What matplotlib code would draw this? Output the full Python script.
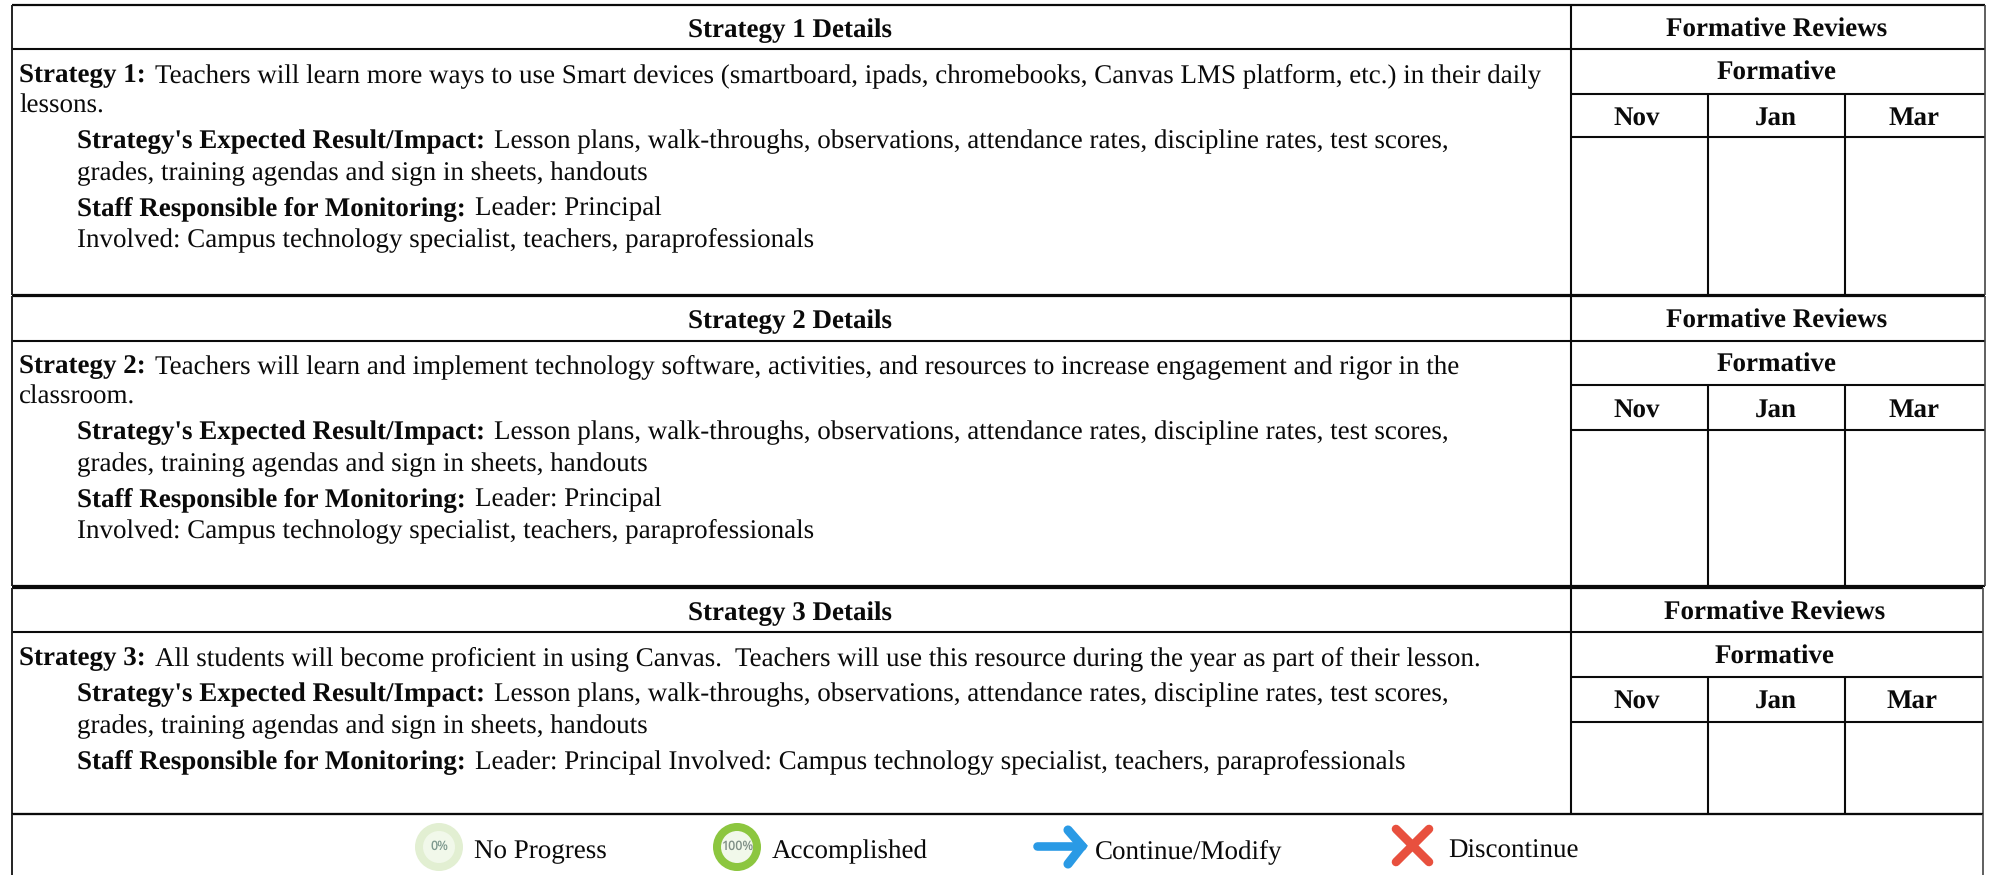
import matplotlib
matplotlib.use("Agg")
import matplotlib.pyplot as plt
from matplotlib.patches import Circle

W, H = 1990, 875
FS = 19.45
plt.rcParams["font.family"] = ["Liberation Serif", "DejaVu Serif"]
plt.rcParams["text.hinting"] = "none"

# text content
strategy_titles = ["Strategy 1 Details", "Strategy 2 Details", "Strategy 3 Details"]
review_title = "Formative Reviews"
formative_title = "Formative"
months = ["Nov", "Jan", "Mar"]
legend_labels = ["No Progress", "Accomplished", "Continue/Modify", "Discontinue"]
impact_1 = "Lesson plans, walk-throughs, observations, attendance rates, discipline rates, test scores,"
impact_2 = "grades, training agendas and sign in sheets, handouts"
involved = "Involved: Campus technology specialist, teachers, paraprofessionals"
impact_head = "Strategy's Expected Result/Impact:"
staff_head = "Staff Responsible for Monitoring:"

# (bold part, regular part, indented)
block_1 = [
    ("Strategy 1:", "Teachers will learn more ways to use Smart devices (smartboard, ipads, chromebooks, Canvas LMS platform, etc.) in their daily", False),
    ("", "lessons.", False),
    (impact_head, impact_1, True),
    ("", impact_2, True),
    (staff_head, "Leader: Principal", True),
    ("", involved, True),
]
block_2 = [
    ("Strategy 2:", "Teachers will learn and implement technology software, activities, and resources to increase engagement and rigor in the", False),
    ("", "classroom.", False),
    (impact_head, impact_1, True),
    ("", impact_2, True),
    (staff_head, "Leader: Principal", True),
    ("", involved, True),
]
block_3 = [
    ("Strategy 3:", "All students will become proficient in using Canvas.  Teachers will use this resource during the year as part of their lesson.", False),
    (impact_head, impact_1, True),
    ("", impact_2, True),
    (staff_head, "Leader: Principal Involved: Campus technology specialist, teachers, paraprofessionals", True),
]
blocks = [block_1, block_2, block_3]

# layout in reference pixels
block_lines = [(5, 49, 94, 137, 295), (296, 341, 385, 430, 586), (588, 632, 677, 722, 814)]
head_base = [(37, 37, 80, 125), (328, 328, 372, 417), (620, 620, 664, 708)]
row_base = [
    [82, 113, 148, 180, 215, 246],
    [373, 404, 439, 471, 506, 537],
    [665, 701, 733, 768],
]
right_edge = [1985, 1985, 1983]
left_edge = 12
col_x = [1571, 1708, 1845]
title_x = 790
review_x = [1777, 1777, 1775]
month_x = [1637, 1776, 1914]
legend_text_x = [474, 772, 1095, 1448]
legend_base = 858

fig = plt.figure(figsize=(W / 100, H / 100), dpi=100, facecolor="white")
ax = fig.add_axes([0, 0, 1, 1])
ax.set_xlim(0, W)
ax.set_ylim(H, 0)
ax.axis("off")
renderer = fig.canvas.get_renderer()


def hline(x0, x1, y, lw=1.5, color="#0a0a0a"):
    ax.plot([x0, x1], [y, y], color=color, lw=lw, solid_capstyle="butt")


def vline(x, y0, y1, lw=1.5, color="#0a0a0a"):
    ax.plot([x, x], [y0, y1], color=color, lw=lw, solid_capstyle="butt")


def label(x, y, s, bold=False, ha="left"):
    return ax.text(x, y, s, fontsize=FS, fontweight="bold" if bold else "normal",
                   ha=ha, va="baseline", color="#0a0a0a")


for i, rows in enumerate(blocks):
    top, head, form, mon, bottom = block_lines[i]
    r = right_edge[i]
    hline(left_edge, r, top, lw=1.6)
    hline(left_edge, r, head)
    hline(col_x[0], r, form)
    hline(col_x[0], r, mon)
    hline(left_edge, r, bottom, lw=1.6)
    vline(left_edge, top, bottom, lw=1.4, color="#222222")
    vline(r, top, bottom, lw=1.2, color="#444444")
    vline(col_x[0], top, bottom)
    vline(col_x[1], form, bottom)
    vline(col_x[2], form, bottom)

    h = head_base[i]
    label(title_x, h[0], strategy_titles[i], bold=True, ha="center")
    label(review_x[i], h[1], review_title, bold=True, ha="center")
    label(review_x[i], h[2], formative_title, bold=True, ha="center")
    for mx, m in zip(month_x, months):
        label(mx - (2 if i == 2 and m == "Mar" else 0), h[3], m, bold=True, ha="center")

    for (bold_part, plain, indent), y in zip(rows, row_base[i]):
        x = 77 if indent else 19
        if bold_part:
            t = label(x, y, bold_part, bold=True)
            x = ax.transData.inverted().transform(t.get_window_extent(renderer))[1][0] + 9
        label(x, y, plain)

# legend row
hline(left_edge, right_edge[2], 814)
vline(left_edge, 814, H, lw=1.4, color="#222222")
vline(right_edge[2], 814, H, lw=1.2, color="#444444")
for x, s in zip(legend_text_x, legend_labels):
    label(x, legend_base, s)

# progress circles
ax.add_patch(Circle((439, 847), 24, fc="#e2efd2", ec="none"))
ax.add_patch(Circle((439, 847), 16, fc="#f1f8ea", ec="none"))
ax.text(439, 846, "0%", fontsize=9, family="Open Sans", fontweight="semibold", color="#7f9a8f", ha="center", va="center")
ax.add_patch(Circle((737, 847), 24, fc="#8cc63f", ec="none"))
ax.add_patch(Circle((737, 847), 16, fc="#f1f8ea", ec="none"))
ax.text(737, 846, "100%", fontsize=9, family="Open Sans", fontweight="semibold", color="#7f8f86", ha="center", va="center")

# arrow and cross
blue = "#2a9ae5"
ax.plot([1037, 1082], [846, 846], color=blue, lw=6.2, solid_capstyle="round")
ax.plot([1068, 1082, 1068], [830, 846, 864], color=blue, lw=6.6,
        solid_capstyle="round", solid_joinstyle="miter")
red = "#e8503e"
ax.plot([1396, 1429], [829, 862], color=red, lw=6.2, solid_capstyle="round")
ax.plot([1396, 1429], [862, 829], color=red, lw=6.2, solid_capstyle="round")

fig.savefig("out.png", dpi=100, facecolor="white")
